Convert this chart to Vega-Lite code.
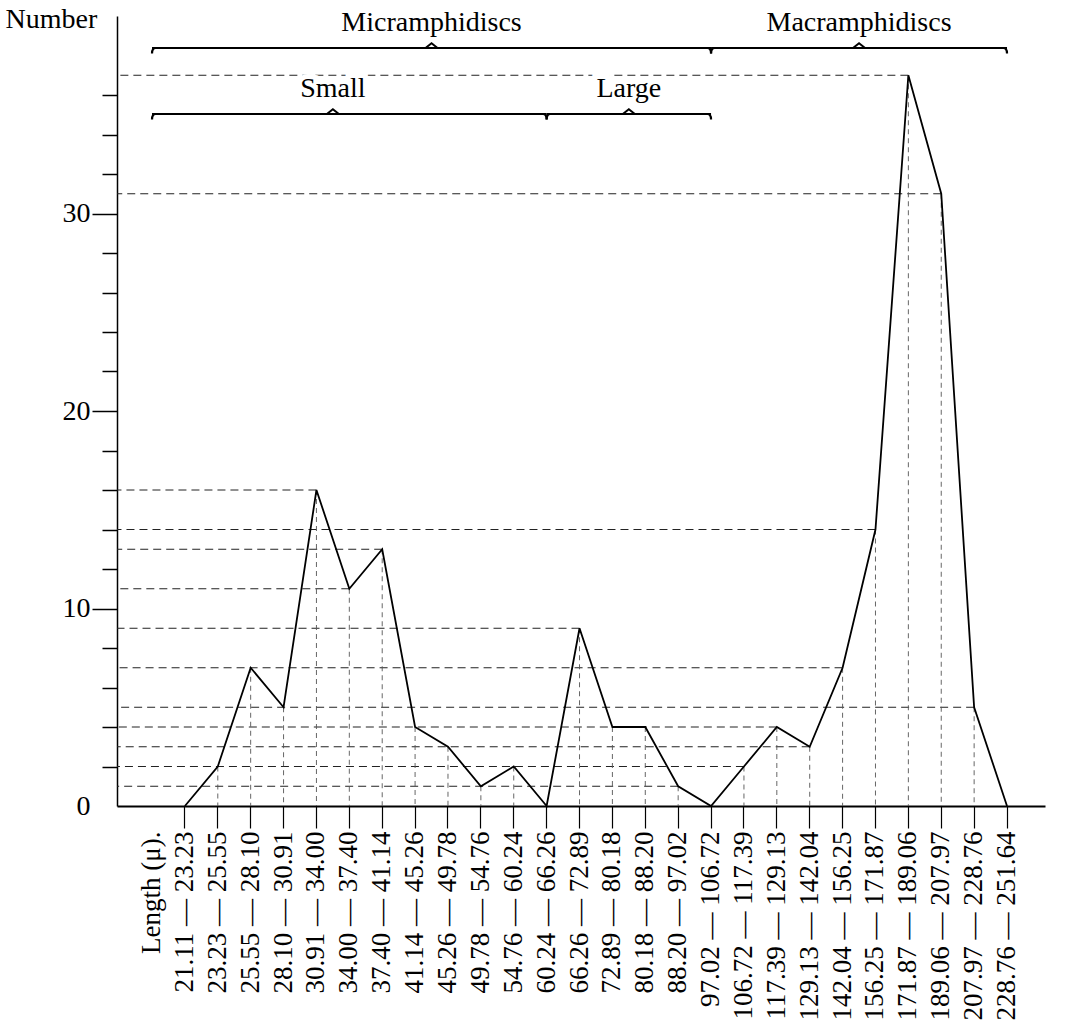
{
  "$schema": "https://vega.github.io/schema/vega-lite/v6.json",
  "width": 928,
  "height": 790,
  "autosize": {"type": "none"},
  "padding": {"left": 117, "top": 16, "right": 35, "bottom": 221},
  "background": "white",
  "config": {
    "view": {"stroke": null},
    "font": "Liberation Serif",
    "axisX": {
      "grid": false, "labelAngle": 270, "labelAlign": "right", "labelBaseline": "middle",
      "labelFont": "Liberation Serif", "labelFontSize": 27, "labelColor": "black", "labelPadding": 3,
      "labelLimit": 400, "labelOverlap": false, "labelFlush": false,
      "tickSize": 22, "tickColor": "black", "tickWidth": 1.2,
      "tickOpacity": {"condition": {"test": "datum.value === 'Length (μ).'", "value": 0}, "value": 1},
      "domainColor": "black", "domainWidth": 2
    }
  },
  "datasets": {
    "counts": [
      {"range": "21.11 — 23.23", "n": 0},
      {"range": "23.23 — 25.55", "n": 2},
      {"range": "25.55 — 28.10", "n": 7},
      {"range": "28.10 — 30.91", "n": 5},
      {"range": "30.91 — 34.00", "n": 16},
      {"range": "34.00 — 37.40", "n": 11},
      {"range": "37.40 — 41.14", "n": 13},
      {"range": "41.14 — 45.26", "n": 4},
      {"range": "45.26 — 49.78", "n": 3},
      {"range": "49.78 — 54.76", "n": 1},
      {"range": "54.76 — 60.24", "n": 2},
      {"range": "60.24 — 66.26", "n": 0},
      {"range": "66.26 — 72.89", "n": 9},
      {"range": "72.89 — 80.18", "n": 4},
      {"range": "80.18 — 88.20", "n": 4},
      {"range": "88.20 — 97.02", "n": 1},
      {"range": "97.02 — 106.72", "n": 0},
      {"range": "106.72 — 117.39", "n": 2},
      {"range": "117.39 — 129.13", "n": 4},
      {"range": "129.13 — 142.04", "n": 3},
      {"range": "142.04 — 156.25", "n": 7},
      {"range": "156.25 — 171.87", "n": 14},
      {"range": "171.87 — 189.06", "n": 37},
      {"range": "189.06 — 207.97", "n": 31},
      {"range": "207.97 — 228.76", "n": 5},
      {"range": "228.76 — 251.64", "n": 0}
    ],
    "braces": [
      {"label": "Micramphidiscs", "tier": 1, "start": "Length (μ).", "end": "97.02 — 106.72", "mid": "41.14 — 45.26"},
      {"label": "Macramphidiscs", "tier": 1, "start": "97.02 — 106.72", "end": "228.76 — 251.64", "mid": "142.04 — 156.25"},
      {"label": "Small", "tier": 2, "start": "Length (μ).", "end": "60.24 — 66.26", "mid": "30.91 — 34.00"},
      {"label": "Large", "tier": 2, "start": "60.24 — 66.26", "end": "97.02 — 106.72", "mid": "72.89 — 80.18"}
    ]
  },
  "layer": [
    {
      "data": {"name": "counts"},
      "layer": [
        {
          "transform": [
            {"filter": "datum.n > 0"},
            {"window": [{"op": "row_number", "as": "order"}]},
            {"joinaggregate": [{"op": "max", "field": "order", "as": "last"}], "groupby": ["n"]},
            {"filter": "datum.order === datum.last"}
          ],
          "mark": {"type": "rule", "color": "#222", "strokeWidth": 1, "strokeDash": [8, 5]},
          "encoding": {
            "x": {"field": "range", "type": "ordinal", "bandPosition": 0.5, "title": null,
              "scale": {"type": "band", "paddingInner": 0, "paddingOuter": 0.61, "align": 0.463,
                "domain": ["Length (μ).", "21.11 — 23.23", "23.23 — 25.55", "25.55 — 28.10", "28.10 — 30.91", "30.91 — 34.00", "34.00 — 37.40", "37.40 — 41.14", "41.14 — 45.26", "45.26 — 49.78", "49.78 — 54.76", "54.76 — 60.24", "60.24 — 66.26", "66.26 — 72.89", "72.89 — 80.18", "80.18 — 88.20", "88.20 — 97.02", "97.02 — 106.72", "106.72 — 117.39", "117.39 — 129.13", "129.13 — 142.04", "142.04 — 156.25", "156.25 — 171.87", "171.87 — 189.06", "189.06 — 207.97", "207.97 — 228.76", "228.76 — 251.64"]}},
            "x2": {"value": 0},
            "y": {"field": "n", "type": "quantitative", "scale": {"domain": [0, 40], "nice": false}}
          }
        },
        {
          "transform": [{"filter": "datum.n > 0"}],
          "mark": {"type": "rule", "color": "#555", "strokeWidth": 0.9, "strokeDash": [5, 4]},
          "encoding": {
            "x": {"field": "range", "type": "ordinal", "bandPosition": 0.5, "title": null},
            "y": {"field": "n", "type": "quantitative"},
            "y2": {"datum": 0}
          }
        },
        {
          "mark": {"type": "line", "color": "black", "strokeWidth": 1.8},
          "encoding": {
            "x": {"field": "range", "type": "ordinal", "bandPosition": 0.5, "title": null},
            "y": {"field": "n", "type": "quantitative",
              "axis": {
                "values": [0,1,2,3,4,5,6,7,8,9,10,11,12,13,14,15,16,17,18,19,20,21,22,23,24,25,26,27,28,29,30,31,32,33,34,35,36,37],
                "labelExpr": "datum.value % 10 === 0 ? datum.label : ''",
                "grid": false,
                "domainColor": "black", "domainWidth": 1.5,
                "tickColor": "black", "tickWidth": 1.5,
                "tickSize": {"condition": [{"test": "datum.value % 10 === 0", "value": 25}, {"test": "datum.value % 5 === 0", "value": 20}], "value": 15},
                "tickOpacity": {"condition": {"test": "datum.value === 0", "value": 0}, "value": 1},
                "labelFont": "Liberation Serif", "labelFontSize": 28, "labelColor": "black", "labelPadding": 2, "labelBaseline": "middle",
                "title": "Number", "titleFont": "Liberation Serif", "titleFontSize": 28, "titleFontWeight": "normal", "titleColor": "black",
                "titleAngle": 0, "titleAlign": "left", "titleBaseline": "alphabetic", "titleX": -112, "titleY": 11
              }}
          }
        }
      ]
    },
    {
      "data": {"name": "braces"},
      "encoding": {
        "y": {"field": "tier", "type": "ordinal", "scale": {"type": "point", "domain": [1, 2], "range": [32, 98], "padding": 0}, "axis": null}
      },
      "layer": [
        {
          "mark": {"type": "rule", "color": "black", "strokeWidth": 2.2},
          "encoding": {
            "x": {"field": "start", "type": "ordinal", "bandPosition": 0.5, "title": null},
            "x2": {"field": "end", "bandPosition": 0.5}
          }
        },
        {
          "mark": {"type": "point", "shape": "M 0.6 0 Q 0 0 0 0.9", "filled": false, "stroke": "black", "strokeWidth": 2.2, "size": 144, "opacity": 1},
          "encoding": {"x": {"field": "start", "type": "ordinal", "bandPosition": 0.5, "title": null}}
        },
        {
          "mark": {"type": "point", "shape": "M -0.6 0 Q 0 0 0 0.9", "filled": false, "stroke": "black", "strokeWidth": 2.2, "size": 144, "opacity": 1},
          "encoding": {"x": {"field": "end", "type": "ordinal", "bandPosition": 0.5, "title": null}}
        },
        {
          "mark": {"type": "text", "font": "Liberation Serif", "fontSize": 28, "baseline": "alphabetic", "dy": -17, "fill": "white", "stroke": "white", "strokeWidth": 10},
          "encoding": {"x": {"field": "mid", "type": "ordinal", "bandPosition": 1, "title": null}, "text": {"field": "label"}}
        },
        {
          "mark": {"type": "text", "font": "Liberation Serif", "fontSize": 28, "baseline": "alphabetic", "dy": -17, "color": "black"},
          "encoding": {"x": {"field": "mid", "type": "ordinal", "bandPosition": 1, "title": null}, "text": {"field": "label"}}
        },
        {
          "mark": {"type": "point", "shape": "M -1 0 L 0 -0.8 L 1 0", "filled": false, "stroke": "black", "strokeWidth": 2, "size": 144, "opacity": 1},
          "encoding": {"x": {"field": "mid", "type": "ordinal", "bandPosition": 1, "title": null}}
        }
      ]
    }
  ],
  "resolve": {"scale": {"y": "independent"}}
}
